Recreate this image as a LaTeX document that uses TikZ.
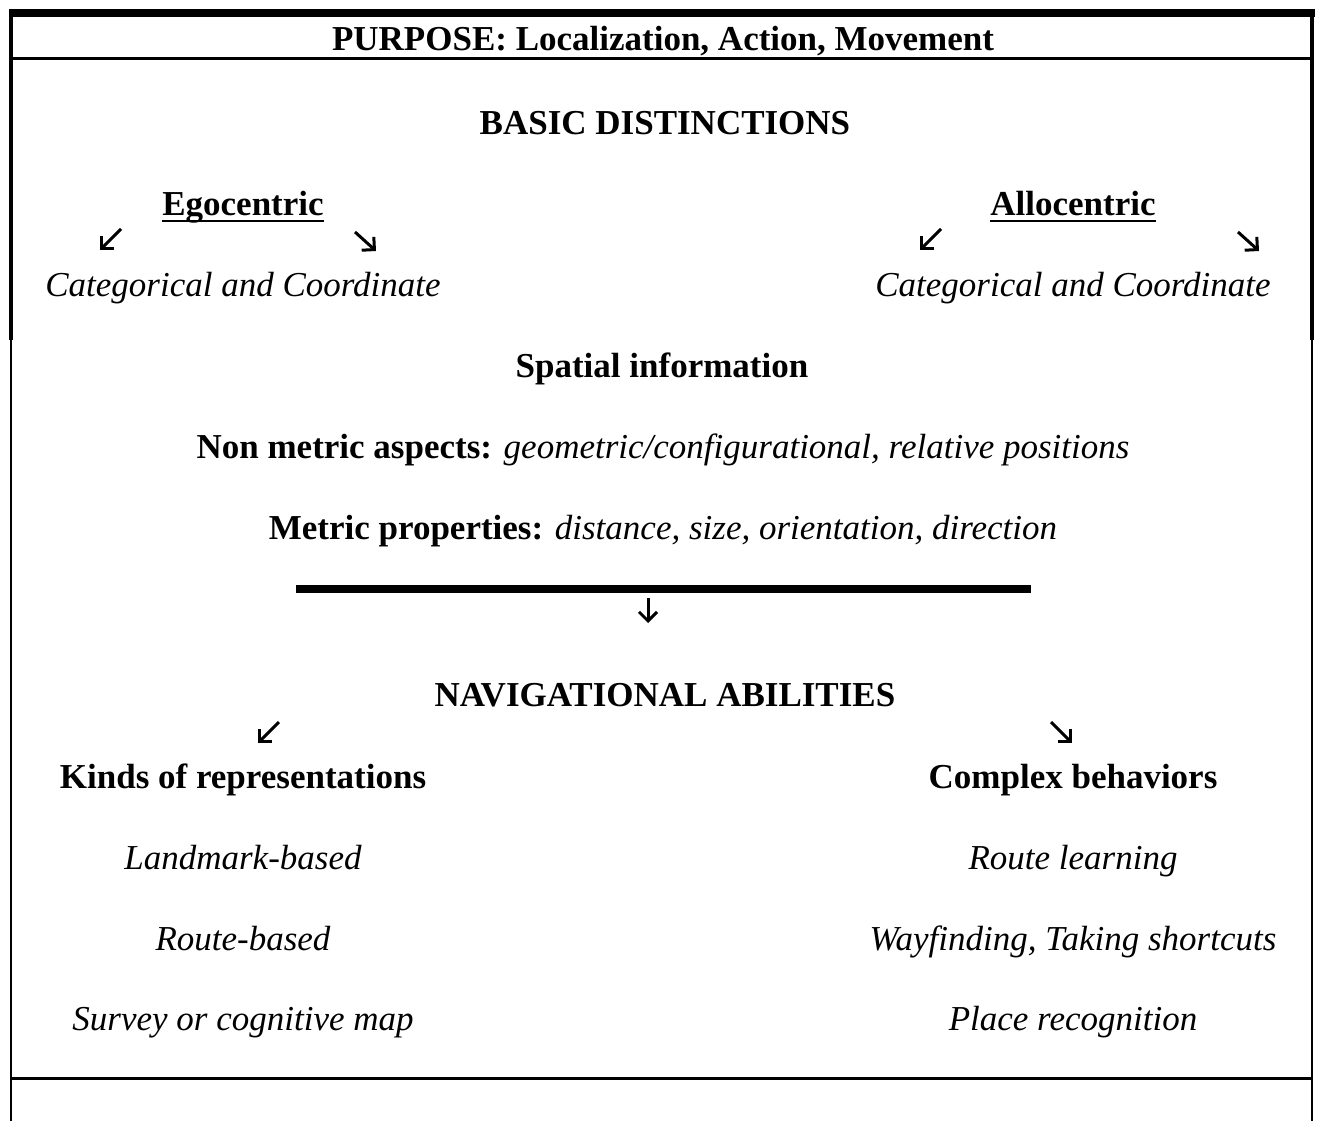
\documentclass[tikz,border=0pt]{standalone}
\usepackage{fontspec}
\setmainfont{Liberation Serif}
\usetikzlibrary{arrows.meta}
\tikzset{
txt/.style={inner sep=0pt, anchor=base, font=\fontsize{35}{42}\selectfont},
btxt/.style={txt, font=\fontsize{35}{42}\selectfont\bfseries},
itxt/.style={txt, font=\fontsize{35}{42}\selectfont\itshape},
glyph/.style={line width=3pt, -{Straight Barb[length=9pt,width=18pt]}},
uline/.style={line width=2.6pt},
frame/.style={line width=2.5pt}
}
\begin{document}
\begin{tikzpicture}[x=1pt,y=1pt,yscale=-1,xscale=1]
\useasboundingbox (0,0) rectangle (1317,1121);
%Frame
\draw [line width=8pt] (9,13) -- (1315,13) ;
\draw [frame] (11,9) -- (11,1121) ;
\draw [frame] (1312,9) -- (1312,1121) ;
\draw [line width=4pt] (11,9) -- (11,340) ;
\draw [line width=4pt] (1312,9) -- (1312,340) ;
\draw [line width=3pt] (11,58.5) -- (1312,58.5) ;
\draw [line width=3pt] (11,1078.5) -- (1312,1078.5) ;

% Text Node
\node [btxt] (purpose) at (663,51) {PURPOSE: Localization, Action, Movement};
% Text Node
\node [btxt] (basic) at (665,135) {BASIC DISTINCTIONS};
% Text Node
\node [btxt] (ego) at (243,215) {Egocentric};
% Text Node
\node [btxt] (allo) at (1073,215) {Allocentric};
% Text Node
\node [itxt] (egocat) at (243,296) {Categorical and Coordinate};
% Text Node
\node [itxt] (allocat) at (1073,296) {Categorical and Coordinate};
% Text Node
\node [btxt] (spatial) at (662,377) {Spatial information};
% Text Node
\node [txt] (nonmetric) at (663,458) {\textbf{Non metric aspects:} \textit{geometric/configurational, relative positions}};
% Text Node
\node [txt] (metric) at (663,539) {\textbf{Metric properties:} \textit{distance, size, orientation, direction}};
% Text Node
\node [btxt] (nav) at (665,706) {NAVIGATIONAL ABILITIES};
% Text Node
\node [btxt] (kinds) at (243,788) {Kinds of representations};
% Text Node
\node [btxt] (complex) at (1073,788) {Complex behaviors};
% Text Node
\node [itxt] (landmark) at (243,869) {Landmark-based};
% Text Node
\node [itxt] (routeb) at (243,950) {Route-based};
% Text Node
\node [itxt] (survey) at (243,1030) {Survey or cognitive map};
% Text Node
\node [itxt] (routel) at (1073,869) {Route learning};
% Text Node
\node [itxt] (wayf) at (1073,950) {Wayfinding, Taking shortcuts};
% Text Node
\node [itxt] (place) at (1073,1030) {Place recognition};

%Underlines
\draw [uline] ([yshift=6pt]ego.base west) -- ([yshift=6pt]ego.base east) ;
\draw [uline] ([yshift=6pt]allo.base west) -- ([yshift=6pt]allo.base east) ;

%Straight Lines
\coordinate (barL) at (296,589) ;
\coordinate (barR) at (1031,589) ;
\draw [line width=8pt] (barL) -- (barR) ;

%Arrows
\coordinate (egoa0) at (121,229) ; \coordinate (egoa1) at (100,250) ;
\coordinate (egob0) at (355,232) ; \coordinate (egob1) at (376,251) ;
\coordinate (alloa0) at (941,229) ; \coordinate (alloa1) at (920,250) ;
\coordinate (allob0) at (1238,232) ; \coordinate (allob1) at (1259,251) ;
\coordinate (down0) at (648,598) ; \coordinate (down1) at (648,623) ;
\coordinate (nava0) at (279,722) ; \coordinate (nava1) at (258,743) ;
\coordinate (navb0) at (1051,722) ; \coordinate (navb1) at (1072,743) ;
\draw [glyph] (egoa0) -- (egoa1) ;
\draw [glyph] (egob0) -- (egob1) ;
\draw [glyph] (alloa0) -- (alloa1) ;
\draw [glyph] (allob0) -- (allob1) ;
\draw [glyph] (down0) -- (down1) ;
\draw [glyph] (nava0) -- (nava1) ;
\draw [glyph] (navb0) -- (navb1) ;
\end{tikzpicture}
\end{document}
